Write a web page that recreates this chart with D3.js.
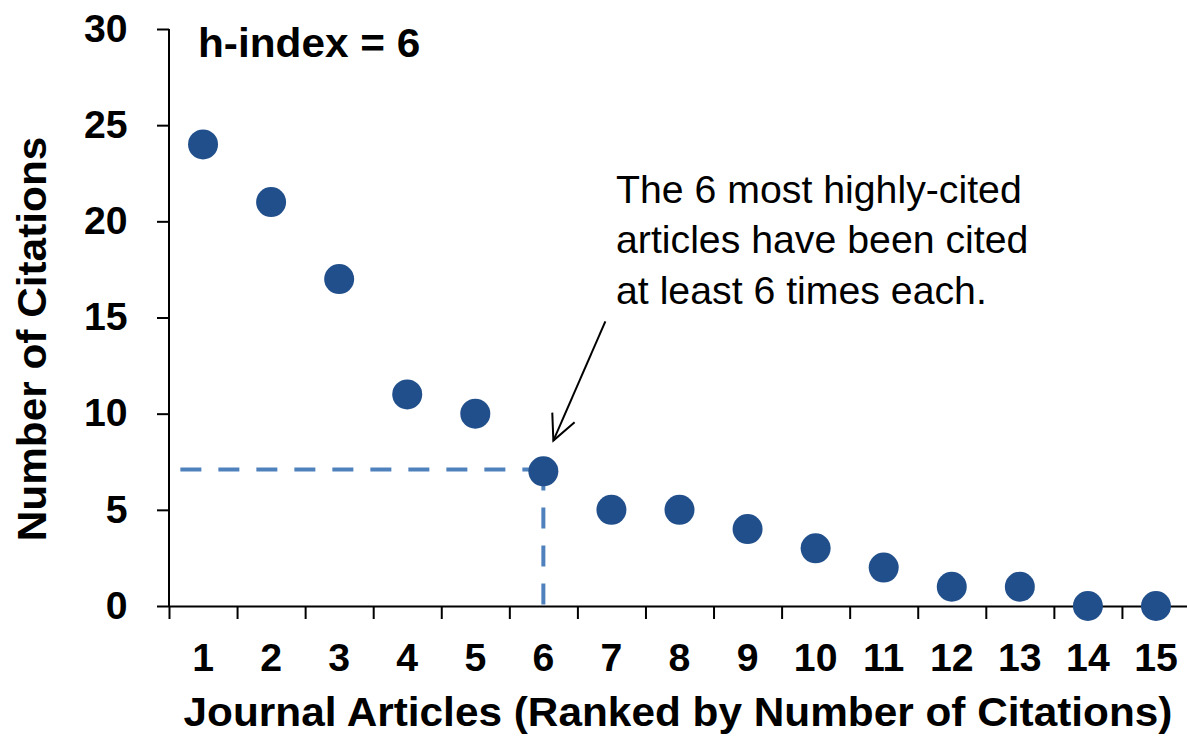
<!DOCTYPE html>
<html>
<head>
<meta charset="utf-8">
<script src="https://cdn.jsdelivr.net/npm/d3@7"></script>
<style>
  html, body { margin: 0; padding: 0; background: #fff; }
  svg { display: block; font-family: Arial, "Liberation Sans", sans-serif; }
</style>
</head>
<body>
<svg id="chart" width="1187" height="737"></svg>
<script>
// ---- data ----
const articles = [1, 2, 3, 4, 5, 6, 7, 8, 9, 10, 11, 12, 13, 14, 15];
const citations = [24, 21, 17, 11, 10, 7, 5, 5, 4, 3, 2, 1, 1, 0, 0];
const yTicks = [0, 5, 10, 15, 20, 25, 30];
const hIndex = 6;
const hLineLevel = 7.1;
const titleText = "h-index = 6";
const noteLines = ["The 6 most highly-cited", "articles have been cited", "at least 6 times each."];
const xTitle = "Journal Articles (Ranked by Number of Citations)";
const yTitle = "Number of Citations";

// ---- layout ----
const svg = d3.select("#chart");
const plotL = 169, plotR = 1190, plotT = 29, plotB = 606;
const stretch = 1.033;

const x = d3.scaleBand().domain(articles).range([plotL, plotR]).padding(0);
const xEdge = d3.scaleLinear().domain([0, articles.length]).range([plotL, plotR]);
const y = d3.scaleLinear().domain([0, 30]).range([plotB, plotT]);

// x axis: boundary ticks
const gx = svg.append("g").attr("transform", `translate(0,${plotB})`)
  .call(d3.axisBottom(xEdge).tickValues(d3.range(0, articles.length + 1)).tickSize(13).tickSizeOuter(0).tickFormat(""));
gx.selectAll("path, line").attr("stroke", "#000").attr("stroke-width", 2);

// x labels at band centers
const gxl = svg.append("g").attr("transform", `translate(0,${plotB})`)
  .call(d3.axisBottom(x).tickSize(0).tickPadding(38));
gxl.select(".domain").remove();
gxl.selectAll("text").attr("font-size", 38).attr("font-weight", "bold").attr("fill", "#000")
  .attr("font-family", "Arial, 'Liberation Sans', sans-serif")
  .attr("transform", `scale(${stretch},1)`);

// y axis
const gy = svg.append("g").attr("transform", `translate(${plotL},0)`)
  .call(d3.axisLeft(y).tickValues(yTicks).tickSize(12).tickSizeOuter(0).tickPadding(28));
gy.select(".domain").attr("d", `M0,${y(30)}V${y(0)}`);
gy.selectAll("path, line").attr("stroke", "#000").attr("stroke-width", 2);
gy.selectAll("text").attr("font-size", 38).attr("font-weight", "bold").attr("fill", "#000")
  .attr("font-family", "Arial, 'Liberation Sans', sans-serif")
  .attr("transform", `scale(${stretch},1)`);

// dashed guide lines (drawn from the h point outward)
const hx = x(hIndex) + x.bandwidth() / 2;
const guide = d3.line().x(d => d[0]).y(d => d[1]);
svg.append("path")
  .attr("d", guide([[hx, y(hLineLevel)], [plotL, y(hLineLevel)]]))
  .attr("fill", "none").attr("stroke", "#4f81bd").attr("stroke-width", 4).attr("stroke-dasharray", "21,17");
svg.append("path")
  .attr("d", guide([[hx, y(hLineLevel)], [hx, y(0)]]))
  .attr("fill", "none").attr("stroke", "#4f81bd").attr("stroke-width", 4).attr("stroke-dasharray", "21,17");

// points
svg.append("g").selectAll("circle")
  .data(articles.map((a, i) => ({ a, c: citations[i] })))
  .join("circle")
  .attr("cx", d => x(d.a) + x.bandwidth() / 2)
  .attr("cy", d => y(d.c))
  .attr("r", 15)
  .attr("fill", "#214f8b");

// h-index title
svg.append("text").attr("transform", `translate(198,57) scale(${stretch},1)`)
  .attr("font-size", 41).attr("font-weight", "bold").attr("fill", "#000").text(titleText);

// annotation text
svg.append("text").attr("transform", `translate(616,203) scale(${stretch},1)`)
  .attr("font-size", 38).attr("fill", "#000")
  .selectAll("tspan").data(noteLines).join("tspan")
  .attr("x", 0).attr("dy", (d, i) => i === 0 ? 0 : 50.5).text(d => d);

// arrow
const tip = [hx + 10, y(8.6)];
const tail = [hx + 62, y(14.8)];
const ang = Math.atan2(tip[1] - tail[1], tip[0] - tail[0]);
const headLen = 28, spread = 0.45;
const h1 = [tip[0] - headLen * Math.cos(ang - spread), tip[1] - headLen * Math.sin(ang - spread)];
const h2 = [tip[0] - headLen * Math.cos(ang + spread), tip[1] - headLen * Math.sin(ang + spread)];
svg.append("path").attr("d", guide([tail, tip])).attr("stroke", "#000").attr("stroke-width", 2).attr("fill", "none");
svg.append("path").attr("d", guide([h1, tip, h2])).attr("stroke", "#000").attr("stroke-width", 2).attr("fill", "none");

// axis titles
svg.append("text").attr("transform", `translate(678,726) scale(${stretch},1)`).attr("text-anchor", "middle")
  .attr("font-size", 41).attr("font-weight", "bold").attr("fill", "#000").text(xTitle);
svg.append("text").attr("transform", `translate(46,339) rotate(-90) scale(${stretch},1)`).attr("text-anchor", "middle")
  .attr("font-size", 41).attr("font-weight", "bold").attr("fill", "#000").text(yTitle);
</script>
</body>
</html>
